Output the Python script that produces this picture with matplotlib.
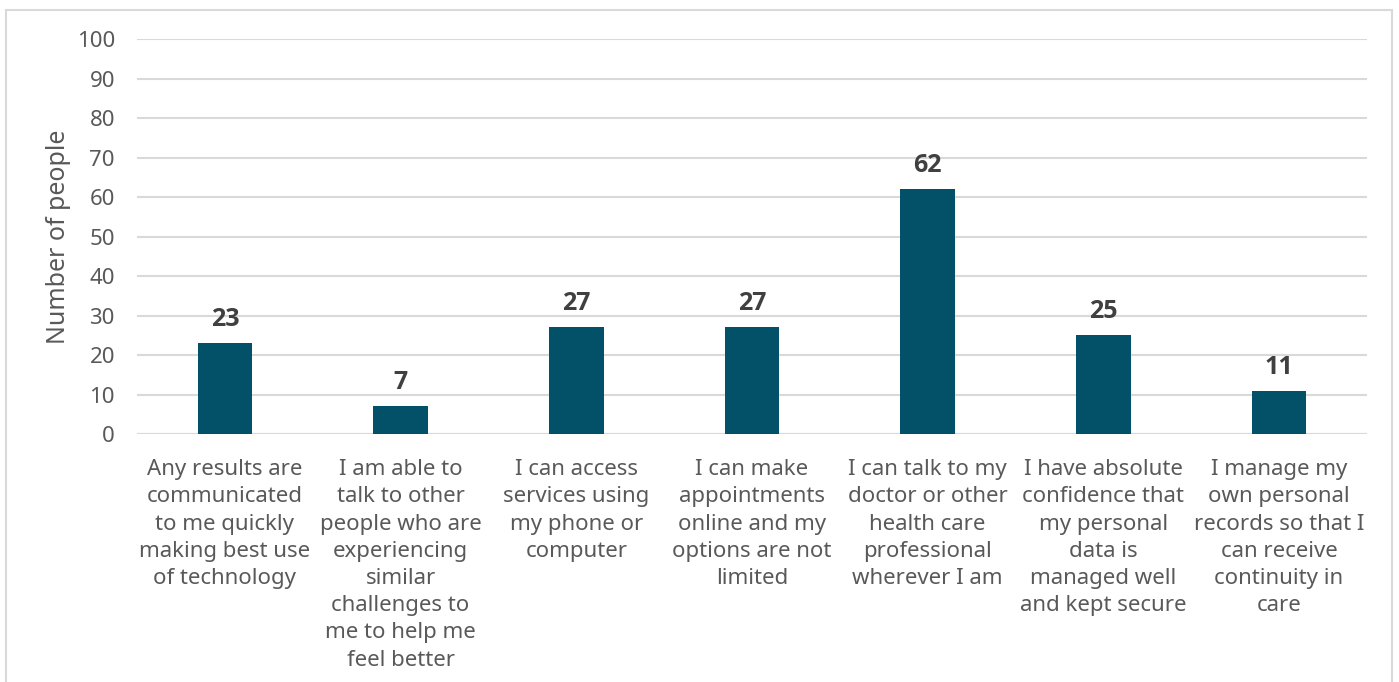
import matplotlib.pyplot as plt
from matplotlib.patches import Rectangle

statements = [
    "Any results are\ncommunicated\nto me quickly\nmaking best use\nof technology",
    "I am able to\ntalk to other\npeople who are\nexperiencing\nsimilar\nchallenges to\nme to help me\nfeel better",
    "I can access\nservices using\nmy phone or\ncomputer",
    "I can make\nappointments\nonline and my\noptions are not\nlimited",
    "I can talk to my\ndoctor or other\nhealth care\nprofessional\nwherever I am",
    "I have absolute\nconfidence that\nmy personal\ndata is\nmanaged well\nand kept secure",
    "I manage my\nown personal\nrecords so that I\ncan receive\ncontinuity in\ncare",
]
people = [23, 7, 27, 27, 62, 25, 11]

plt.rcParams['font.family'] = ['Noto Sans', 'DejaVu Sans']

fig = plt.figure(figsize=(13.99, 6.82), dpi=100)
ax = fig.add_axes([0.098, 0.3636, 0.879, 0.5792])

x = list(range(len(people)))
bars = ax.bar(x, people, width=0.31, color='#035069', zorder=3)

for xi, v in zip(x, people):
    ax.text(xi, v + 2.8, str(v), ha='center', va='bottom', fontsize=18,
            fontweight='bold', family=['Open Sans', 'DejaVu Sans'],
            color='#404040')

ax.set_xlim(-0.5, len(people) - 0.5)
ax.set_ylim(0, 100)
ax.set_yticks(range(0, 101, 10))
ax.yaxis.grid(True, color='#d9d9d9', linewidth=1.5, zorder=0)
for s in ax.spines.values():
    s.set_visible(False)
ax.axhline(0, color='#d9d9d9', linewidth=1.5, zorder=1)

ax.set_xticks(x)
ax.set_xticklabels(statements, fontsize=16, color='#595959', linespacing=1.39)
ax.tick_params(axis='both', length=0, labelsize=16, labelcolor='#595959')
ax.tick_params(axis='x', pad=18)
ax.tick_params(axis='y', pad=16)
ax.set_ylabel('Number of people', fontsize=18, color='#595959', labelpad=4)

# thin frame around the chart
fig.patches.append(Rectangle((6 / 1399, -0.1), 1386 / 1399, 1 - 10 / 682 + 0.1,
                             transform=fig.transFigure, fill=False,
                             edgecolor='#d9d9d9', linewidth=1.5))

fig.savefig('out.png', dpi=100)
